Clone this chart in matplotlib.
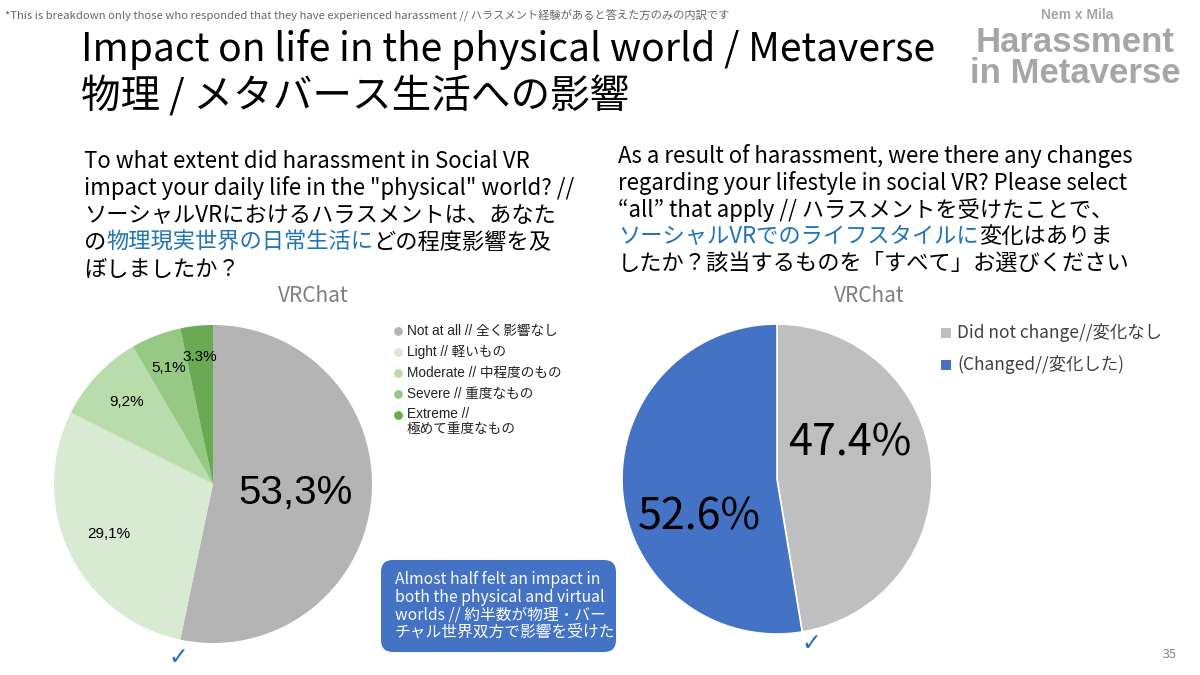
import numpy as np
import matplotlib.pyplot as plt
from matplotlib.patches import FancyBboxPatch

JP = ['Noto Sans CJK JP', 'DejaVu Sans']
ARIAL = ['Liberation Sans', 'Noto Sans CJK JP', 'DejaVu Sans']

# left pie: impact on physical life
impact_labels = ['Not at all // 全く影響なし', 'Light // 軽いもの', 'Moderate // 中程度のもの',
                 'Severe // 重度なもの', 'Extreme //\n極めて重度なもの']
impact_values = [53.3, 29.1, 9.2, 5.1, 3.3]
impact_texts = ['53,3%', '29,1%', '9,2%', '5,1%', '3.3%']
impact_colors = ['#b4b4b4', '#d9ead3', '#b9dcac', '#97c984', '#6aaa54']

# right pie: lifestyle change in social VR
change_labels = ['Did not change//変化なし', '(Changed//変化した)']
change_values = [47.4, 52.6]
change_texts = ['47.4%', '52.6%']
change_colors = ['#bfbfbf', '#4472c4']

fig = plt.figure(figsize=(12, 6.75), dpi=100)
bg = fig.add_axes([0, 0, 1, 1])
bg.set_xlim(0, 1200)
bg.set_ylim(675, 0)
bg.axis('off')

# header
bg.text(5, 16, '*This is breakdown only those who responded that they have experienced harassment // ハラスメント経験があると答えた方のみの内訳です',
        fontsize=8.1, color='#666666', family=JP, va='center')
bg.text(81, 50, 'Impact on life in the physical world / Metaverse', fontsize=28.1,
        family=JP, va='center', color='black')
bg.text(81, 97, '物理 / メタバース生活への影響', fontsize=28.5, family=JP, va='center', color='black')

# logo
bg.text(1077, 15, 'Nem x Mila', fontsize=10, fontweight='bold', color='#a6a6a6',
        family=ARIAL, ha='center', va='center')
bg.text(1075, 58, 'Harassment\nin Metaverse', fontsize=25, fontweight='bold', color='#a6a6a6',
        family=ARIAL, ha='center', va='center', linespacing=0.92)


def rich_line(x, y, parts, size):
    t = bg.text(x, y, parts[0][0], color=parts[0][1], fontsize=size, family=JP, va='bottom')
    for s, c in parts[1:]:
        t = bg.annotate(s, xy=(1, 0), xycoords=t, color=c, fontsize=size, family=JP, va='bottom')


BLUE = '#1f74b4'
q1 = [
    [('To what extent did harassment in Social VR', 'black')],
    [('impact your daily life in the "physical" world? //', 'black')],
    [('ソーシャルVRにおけるハラスメントは、あなた', 'black')],
    [('の', 'black'), ('物理現実世界の日常生活に', BLUE), ('どの程度影響を及', 'black')],
    [('ぼしましたか？', 'black')],
]
q2 = [
    [('As a result of harassment, were there any changes', 'black')],
    [('regarding your lifestyle in social VR? Please select', 'black')],
    [('“all” that apply // ハラスメントを受けたことで、', 'black')],
    [('ソーシャルVRでのライフスタイルに', BLUE), ('変化はありま', 'black')],
    [('したか？該当するものを「すべて」お選びください', 'black')],
]
for i, parts in enumerate(q1):
    rich_line(84, 173 + i * 27, parts, 16)
for i, parts in enumerate(q2):
    rich_line(618, 168 + i * 26.8, parts, 16)

bg.text(313, 296, 'VRChat', fontsize=15, color='#7f7f7f', family=JP, ha='center', va='center')
bg.text(869, 296, 'VRChat', fontsize=15, color='#7f7f7f', family=JP, ha='center', va='center')

# left pie
ax1 = fig.add_axes([(213 - 159) / 1200, (675 - 484 - 159) / 675, 318 / 1200, 318 / 675])
wedges, _ = ax1.pie(impact_values, colors=impact_colors, startangle=90, counterclock=False,
                    radius=1, wedgeprops=dict(linewidth=0))
ax1.set_xlim(-1, 1)
ax1.set_ylim(-1, 1)
ax1.set_aspect('equal')
dists = [0.52, 0.73, 0.75, 0.78, 0.8]
sizes = [29, 11, 11, 11, 11]
for w, txt, d, s in zip(wedges, impact_texts, dists, sizes):
    ang = np.deg2rad((w.theta1 + w.theta2) / 2)
    ax1.text(d * np.cos(ang), d * np.sin(ang), txt, fontsize=s, family=ARIAL,
             ha='center', va='center', color='black')

# left legend
for i, (lab, c) in enumerate(zip(impact_labels, impact_colors)):
    yy = 331 + i * 21
    bg.scatter([398], [yy], s=40, color=c, marker='o', linewidths=0)
    if '\n' in lab:
        bg.text(407, yy - 8, lab, fontsize=9.8, family=ARIAL, va='top',
                color='#222222', linespacing=1.05)
    else:
        bg.text(407, yy, lab, fontsize=9.8, family=ARIAL, va='center', color='#222222')

# right pie
ax2 = fig.add_axes([(777 - 155) / 1200, (675 - 479 - 155) / 675, 310 / 1200, 310 / 675])
wedges2, _ = ax2.pie(change_values, colors=change_colors, startangle=90, counterclock=False,
                     radius=1, wedgeprops=dict(linewidth=1.2, edgecolor='white'))
ax2.set_xlim(-1, 1)
ax2.set_ylim(-1, 1)
ax2.set_aspect('equal')
label_pos = [(0.47, 0.23), (-0.5, -0.25)]
for txt, (px, py) in zip(change_texts, label_pos):
    ax2.text(px, py, txt, fontsize=31, family=JP, ha='center', va='center', color='black')

# right legend
for i, (lab, c) in enumerate(zip(change_labels, change_colors)):
    yy = 333 + i * 32
    bg.scatter([946], [yy], s=42, color=c, marker='s', linewidths=0)
    bg.text(957, yy, lab, fontsize=12.5, family=JP, va='center', color='#404040')

# note box
box = FancyBboxPatch((381, 560), 235, 92, boxstyle='round,pad=0,rounding_size=12',
                     fc='#4472c4', ec='none')
bg.add_patch(box)
bg.text(395, 606, 'Almost half felt an impact in\nboth the physical and virtual\nworlds // 約半数が物理・バー\nチャル世界双方で影響を受けた',
        fontsize=11.3, family=JP, color='white', va='center', ha='left', linespacing=1.05)

# check marks
bg.text(178, 657, '✓', fontsize=17, color='#1f6fb8', family=['DejaVu Sans'], ha='center', va='center')
bg.text(811, 643, '✓', fontsize=17, color='#1f6fb8', family=['DejaVu Sans'], ha='center', va='center')

bg.text(1170, 655, '35', fontsize=9, color='#808080', family=JP, ha='center', va='center')

fig.savefig('out.png', dpi=100)
